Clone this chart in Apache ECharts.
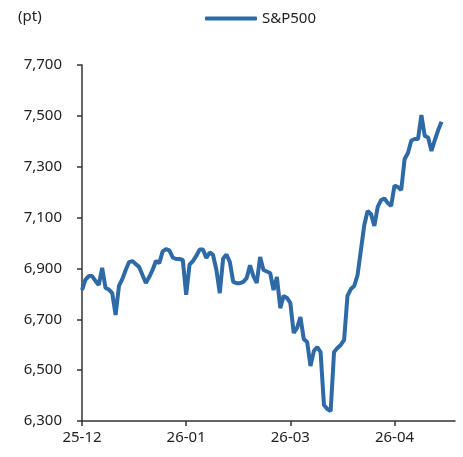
<!DOCTYPE html>
<html>
<head>
<meta charset="utf-8">
<script src="https://cdn.jsdelivr.net/npm/echarts@6/dist/echarts.min.js"></script>
<style>
  html, body { margin: 0; padding: 0; background: #fff; }
  #chart { width: 463px; height: 457px; }
</style>
</head>
<body>
<div id="chart"></div>
<script>
// trading days from 2025-12-01, one label every 31 days
const tickLabels = ['25-12', '26-01', '26-03', '26-04'];
const tickStep = 31;
const dayCount = 112;

const spx = [
    6815, 6855, 6870, 6870, 6851, 6835, 6902, 6823, 6817, 6803,
    6717, 6831, 6858, 6894, 6925, 6929, 6917, 6906, 6874, 6843,
    6866, 6894, 6929, 6921, 6967, 6976, 6971, 6943, 6937, 6937,
    6933, 6796, 6915, 6929, 6949, 6974, 6974, 6941, 6963, 6953,
    6894, 6803, 6939, 6955, 6925, 6847, 6842, 6842, 6847, 6862,
    6912, 6870, 6843, 6945, 6894, 6888, 6882, 6815, 6866, 6744,
    6792, 6784, 6764, 6646, 6666, 6709, 6622, 6611, 6516, 6575,
    6591, 6571, 6363, 6347, 6339, 6571, 6587, 6599, 6619, 6792,
    6819, 6831, 6874, 6972, 7071, 7126, 7114, 7067, 7142, 7169,
    7175, 7157, 7146, 7226, 7220, 7208, 7330, 7354, 7403, 7409,
    7409, 7503, 7421, 7415, 7362, 7405, 7444, 7477
];

const days = [];
for (let i = 0; i < dayCount; i++) days.push(String(i));

const chart = echarts.init(document.getElementById('chart'));
const textColor = '#222';
const lineColor = '#2d6aa6';
const fontFamily = '"Noto Sans", sans-serif';

chart.setOption({
    animation: false,
    title: {
        text: '(pt)',
        left: 13,
        top: 4,
        textStyle: { fontSize: 15, fontWeight: 'normal', color: textColor, fontFamily: fontFamily }
    },
    legend: {
        left: 200,
        top: 6,
        icon: 'roundRect',
        itemWidth: 52,
        itemHeight: 4,
        itemGap: 10,
        textStyle: { fontSize: 15, color: textColor, fontFamily: fontFamily },
        data: ['S&P500']
    },
    grid: { left: 82, right: 8, top: 65, bottom: 36 },
    xAxis: {
        type: 'category',
        data: days,
        boundaryGap: false,
        axisLine: { lineStyle: { color: '#333', width: 1.5 } },
        axisTick: { interval: tickStep - 1, length: 5, lineStyle: { color: '#333', width: 1.5 } },
        axisLabel: {
            interval: tickStep - 1,
            margin: 9,
            fontSize: 15,
            color: textColor,
            fontFamily: fontFamily,
            formatter: function (v, idx) {
                return tickLabels[idx / tickStep] || '';
            }
        },
        splitLine: { show: false }
    },
    yAxis: {
        type: 'value',
        min: 6300,
        max: 7700,
        interval: 200,
        axisLine: { show: true, lineStyle: { color: '#333', width: 1.5 } },
        axisTick: { show: true, length: 5, lineStyle: { color: '#333', width: 1.5 } },
        axisLabel: {
            margin: 20,
            fontSize: 15,
            color: textColor,
            fontFamily: fontFamily,
            formatter: v => v.toLocaleString('en-US')
        },
        splitLine: { show: false }
    },
    series: [
        {
            name: 'S&P500',
            type: 'line',
            data: spx,
            symbol: 'none',
            lineStyle: { color: lineColor, width: 4 },
            itemStyle: { color: lineColor }
        }
    ]
});
</script>
</body>
</html>
